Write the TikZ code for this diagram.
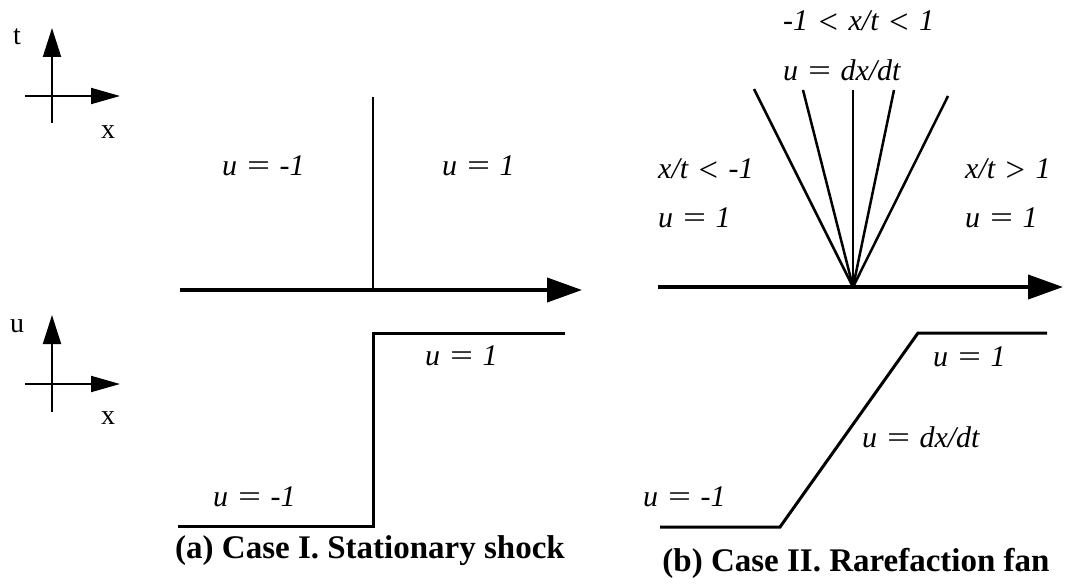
\documentclass[tikz,border=0pt]{standalone}
\usepackage{fontspec}
\setmainfont{Liberation Serif}
\usetikzlibrary{arrows.meta}
\newcommand{\myeq}{\scalebox{1.35}[1]{=}}
\newcommand{\mylt}{\hspace{0.1em}\raisebox{-0.09em}{\scalebox{1.15}{\upshape <}}\hspace{0.1em}}
\newcommand{\mygt}{\hspace{0.1em}\raisebox{-0.09em}{\scalebox{1.15}{\upshape >}}\hspace{0.1em}}
\begin{document}
\begin{tikzpicture}[x=1pt,y=-1pt,
  lbl/.style={font=\fontsize{30}{34}\selectfont\itshape, inner sep=0pt},
  captxt/.style={font=\fontsize{33}{38}\selectfont\bfseries, inner sep=0pt},
  axl/.style={font=\fontsize{28}{30}\selectfont, inner sep=0pt},
  smallaxv/.style={line width=2pt, -{Triangle[length=29pt,width=18pt]}},
  smallaxh/.style={line width=2pt, -{Triangle[length=29pt,width=16pt]}},
  mainax/.style={line width=4pt, -{Triangle[length=35pt,width=24pt]}},
  crv/.style={line width=3pt, line join=miter},
  fanln/.style={line width=2.5pt}]
\useasboundingbox (0,0) rectangle (1065,586);

% small axes (t,x)
\coordinate (tb) at (52,123);
\coordinate (tt) at (52,28);
\coordinate (xl) at (25,96);
\coordinate (xr) at (120,96);
\draw[smallaxv] (tb) -- (tt);
\draw[smallaxh] (xl) -- (xr);
\node[axl] (tlab) at (17,37) {t};
\node[axl] (xlab1) at (108,132) {x};

% small axes (u,x)
\coordinate (ub) at (52,412);
\coordinate (ut) at (52,315);
\coordinate (xl2) at (25,384);
\coordinate (xr2) at (120,384);
\draw[smallaxv] (ub) -- (ut);
\draw[smallaxh] (xl2) -- (xr2);
\node[axl] (ulab) at (17,326) {u};
\node[axl] (xlab2) at (108,418) {x};

% Case I: x-t plane
\coordinate (a0) at (180,290);
\coordinate (a1) at (582,290);
\coordinate (sb) at (373,290);
\coordinate (st) at (373,97);
\draw[line width=2.5pt] (sb) -- (st);
\draw[mainax] (a0) -- (a1);
\node[lbl, anchor=west] (aL) at (222,166) {u \myeq{} -1};
\node[lbl, anchor=west] (aR) at (442,166) {u \myeq{} 1};

% Case I: profile
\coordinate (p0) at (178,526);
\coordinate (p1) at (373,526);
\coordinate (p2) at (373,333);
\coordinate (p3) at (565,333);
\draw[crv] (p0) -- (p1) -- (p2) -- (p3);
\node[lbl, anchor=west] (pR) at (425,356) {u \myeq{} 1};
\node[lbl, anchor=west] (pL) at (213,497) {u \myeq{} -1};
\node[captxt] (capa) at (370,551) {(a) Case I. Stationary shock};

% Case II: x-t plane
\coordinate (b0) at (658,287);
\coordinate (b1) at (1063,287);
\coordinate (o) at (853,287);
\coordinate (f1) at (754,89);
\coordinate (f2) at (803,90);
\coordinate (f3) at (853,90);
\coordinate (f4) at (894,90);
\coordinate (f5) at (948,96);
\draw[fanln] (o) -- (f1);
\draw[fanln] (o) -- (f2);
\draw[fanln] (o) -- (f3);
\draw[fanln] (o) -- (f4);
\draw[fanln] (o) -- (f5);
\draw[mainax] (b0) -- (b1);
\node[lbl, anchor=west] (fanA) at (783,22) {-1 \mylt{} x/t \mylt{} 1};
\node[lbl, anchor=west] (fanB) at (783,70) {u \myeq{} dx/dt};
\node[lbl, anchor=west] (lA) at (658,170) {x/t \mylt{} -1};
\node[lbl, anchor=west] (lB) at (658,218) {u \myeq{} 1};
\node[lbl, anchor=west] (rA) at (965,170) {x/t \mygt{} 1};
\node[lbl, anchor=west] (rB) at (965,218) {u \myeq{} 1};

% Case II: profile
\coordinate (q0) at (660,527);
\coordinate (q1) at (780,527);
\coordinate (q2) at (918,333);
\coordinate (q3) at (1047,333);
\draw[crv] (q0) -- (q1) -- (q2) -- (q3);
\node[lbl, anchor=west] (qR) at (933,357) {u \myeq{} 1};
\node[lbl, anchor=west] (qM) at (862,437) {u \myeq{} dx/dt};
\node[lbl, anchor=west] (qL) at (643,497) {u \myeq{} -1};
\node[captxt] (capb) at (856,563) {(b) Case II. Rarefaction fan};
\end{tikzpicture}
\end{document}
